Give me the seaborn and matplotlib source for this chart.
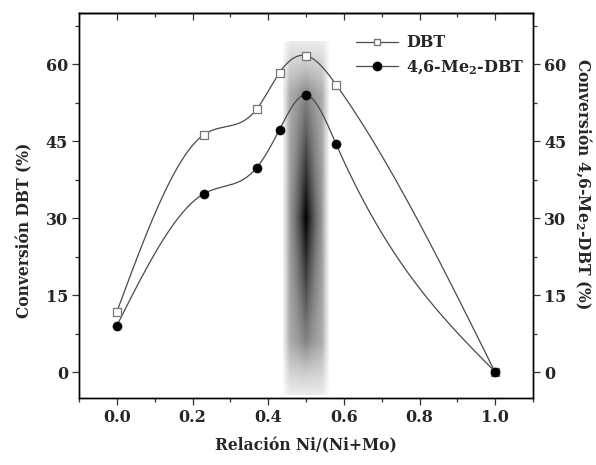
import numpy as np
import pandas as pd
import matplotlib
matplotlib.use("Agg")
import matplotlib.pyplot as plt
import seaborn as sns
from matplotlib.lines import Line2D
from matplotlib.ticker import MultipleLocator

# ---- data ----
ratio = [0.0, 0.23, 0.37, 0.43, 0.50, 0.58, 1.0]
conv_dbt = [11.8, 46.3, 51.3, 58.4, 61.7, 56.0, 0.0]
conv_me2 = [9.1, 34.8, 39.9, 47.3, 54.0, 44.4, 0.1]
series_names = ["DBT", "4,6-Me$_2$-DBT"]
x_ticks = [0.0, 0.2, 0.4, 0.6, 0.8, 1.0]
y_ticks = [0, 15, 30, 45, 60]
band_x = (0.44, 0.56)
band_y = (-4.4, 64.5)


def natural_spline(x, y, xs):
    x = np.asarray(x, float); y = np.asarray(y, float)
    n = len(x); h = np.diff(x); d = np.diff(y) / h
    A = np.zeros((n, n)); b = np.zeros(n)
    A[0, 0] = A[-1, -1] = 1
    for i in range(1, n - 1):
        A[i, i - 1] = h[i - 1]; A[i, i] = 2 * (h[i - 1] + h[i]); A[i, i + 1] = h[i]
        b[i] = 6 * (d[i] - d[i - 1])
    M = np.linalg.solve(A, b)
    idx = np.clip(np.searchsorted(x, xs) - 1, 0, n - 2)
    hi = h[idx]; a = x[idx + 1] - xs; c = xs - x[idx]
    return (M[idx] * a**3 / (6 * hi) + M[idx + 1] * c**3 / (6 * hi)
            + (y[idx] / hi - M[idx] * hi / 6) * a
            + (y[idx + 1] / hi - M[idx + 1] * hi / 6) * c)


sns.set_theme(style="white")
plt.rcParams["font.family"] = ["DejaVu Serif"]
plt.rcParams["font.weight"] = "bold"
plt.rcParams["mathtext.default"] = "regular"

fig = plt.figure(figsize=(5.96, 4.65), dpi=100)
ax = fig.add_axes([0.1326, 0.1441, 0.7617, 0.8279])

# gradient band
u = np.linspace(-1, 1, 240)
v = np.linspace(-1, 1, 500)
U, V = np.meshgrid(u, v)
au, av = np.abs(U), np.abs(V)
edge = 0.15 + 0.85 * np.clip((1 - au) / 0.3, 0, 1)
endf = 0.25 + 0.75 * np.clip((1 - av) / 0.3, 0, 1)
core = (1 - au) ** 1.6 * (1 - av) ** 1.1
D = edge * endf * (0.3 + 0.7 * core)
ax.imshow(1 - D, extent=[band_x[0], band_x[1], band_y[0], band_y[1]],
          cmap="gray", vmin=0, vmax=1, aspect="auto", origin="lower",
          interpolation="bilinear", zorder=0)

xs = np.linspace(0, 1, 500)
smooth = pd.DataFrame({"x": xs, "dbt": natural_spline(ratio, conv_dbt, xs),
                       "me2": natural_spline(ratio, conv_me2, xs)})
pts = pd.DataFrame({"x": ratio, "dbt": conv_dbt, "me2": conv_me2})

line_color = "#4a4a4a"
sns.lineplot(data=smooth, x="x", y="dbt", ax=ax, color=line_color, lw=0.9, zorder=2)
sns.lineplot(data=smooth, x="x", y="me2", ax=ax, color=line_color, lw=0.9, zorder=2)
sns.scatterplot(data=pts, x="x", y="dbt", ax=ax, marker="s", s=36,
                facecolor="white", edgecolor="#777777", linewidth=0.9, zorder=3)
sns.scatterplot(data=pts, x="x", y="me2", ax=ax, marker="o", s=42,
                color="black", edgecolor="black", linewidth=0.5, zorder=3)

ax.set_xlim(-0.1, 1.1)
ax.set_ylim(-5, 70)
ax.set_xticks(x_ticks)
ax.set_xticklabels([f"{t:.1f}" for t in x_ticks])
ax.set_yticks(y_ticks)
ax.xaxis.set_minor_locator(MultipleLocator(0.1))
ax.yaxis.set_minor_locator(MultipleLocator(7.5))

ax2 = ax.twinx()
ax2.set_ylim(ax.get_ylim())
ax2.set_yticks(y_ticks)
ax2.yaxis.set_minor_locator(MultipleLocator(7.5))

top = ax.secondary_xaxis("top")
top.set_xticks(x_ticks)
top.xaxis.set_minor_locator(MultipleLocator(0.1))
top.tick_params(which="both", direction="in", labeltop=False, length=5,
                width=0.9, color="#333333")
top.tick_params(which="minor", length=3)
top.spines["top"].set_linewidth(1.0)

for a in (ax, ax2):
    for s in a.spines.values():
        s.set_color("black"); s.set_linewidth(1.0)
    a.tick_params(which="both", length=5, width=0.9, color="#333333",
                  labelsize=11.5, pad=3, direction="out")
    a.tick_params(which="minor", length=3)
ax.tick_params(axis="x", which="both", bottom=True, top=False)
ax.tick_params(axis="y", which="both", left=True)
ax2.tick_params(axis="y", which="both", right=True)

ax.set_xlabel("Relación Ni/(Ni+Mo)", fontsize=11.2, fontweight="bold", labelpad=8)
ax.set_ylabel("Conversión DBT (%)", fontsize=11.2, fontweight="bold")
ax2.set_ylabel("Conversión 4,6-Me$_2$-DBT (%)", fontsize=11.2, fontweight="bold",
               rotation=270)
ax.yaxis.set_label_coords(-0.100, 0.436)
ax2.yaxis.set_label_coords(1.132, 0.556)

handles = [Line2D([], [], color=line_color, lw=0.9, marker="s", markersize=5,
                  markerfacecolor="white", markeredgecolor="#777777"),
           Line2D([], [], color=line_color, lw=0.9, marker="o", markersize=6,
                  markerfacecolor="black", markeredgecolor="black")]
ax.legend(handles, series_names, loc="upper left", bbox_to_anchor=(0.59, 0.97),
          frameon=False, fontsize=11.5, handlelength=2.6, handletextpad=0.5,
          labelspacing=0.45, borderaxespad=0.2)

fig.savefig("out.png", dpi=100)
